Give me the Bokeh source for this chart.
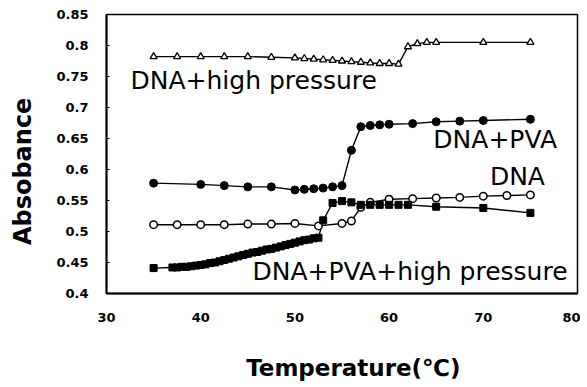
import math
from bokeh.plotting import figure
from bokeh.models import Range1d, FixedTicker, Label
from bokeh.core.properties import value
from bokeh.embed import file_html
from bokeh.resources import INLINE

# ---------------- data ----------------
x_ticks = [30, 40, 50, 60, 70, 80]
y_ticks = [0.4, 0.45, 0.5, 0.55, 0.6, 0.65, 0.7, 0.75, 0.8, 0.85]
y_tick_labels = ["0.4", "0.45", "0.5", "0.55", "0.6", "0.65", "0.7", "0.75", "0.8", "0.85"]

temp_hp = [35, 37.5, 40, 42.5, 45, 47.5, 50, 51, 52, 53, 54, 55, 56, 57, 58, 59, 60, 61,
           62, 63, 64, 65, 70, 75]
abs_hp = [0.782, 0.782, 0.782, 0.782, 0.782, 0.781, 0.780, 0.779, 0.778, 0.777, 0.776, 0.775,
          0.774, 0.773, 0.772, 0.771, 0.771, 0.770, 0.798, 0.803, 0.805, 0.805, 0.805, 0.805]

temp_pva = [35, 40, 42.5, 45, 47.5, 50, 51, 52, 53, 54, 55, 56, 57, 58, 59, 60, 62.5, 65,
            67.5, 70, 75]
abs_pva = [0.578, 0.576, 0.574, 0.572, 0.572, 0.567, 0.568, 0.569, 0.570, 0.572, 0.574, 0.631,
           0.669, 0.671, 0.672, 0.673, 0.674, 0.677, 0.678, 0.679, 0.681]

temp_dna = [35, 37.5, 40, 42.5, 45, 47.5, 50, 52.5, 55, 56, 57, 58, 60, 62.5, 65, 67.5, 70,
            72.5, 75]
abs_dna = [0.511, 0.511, 0.511, 0.511, 0.512, 0.512, 0.513, 0.509, 0.513, 0.517, 0.539, 0.547,
           0.552, 0.553, 0.554, 0.555, 0.557, 0.558, 0.559]

temp_pvahp = [35, 37, 37.5, 38, 38.5, 39, 39.5, 40, 40.5, 41, 41.5, 42, 42.5, 43, 43.5, 44,
              44.5, 45, 45.5, 46, 46.5, 47, 47.5, 48, 48.5, 49, 49.5, 50, 50.5, 51, 51.5, 52,
              52.5, 53, 54, 55, 56, 57, 58, 59, 60, 61, 62, 65, 70, 75]
abs_pvahp = [0.441, 0.442, 0.442, 0.443, 0.443, 0.444, 0.445, 0.446, 0.447, 0.449, 0.450,
             0.452, 0.454, 0.456, 0.458, 0.460, 0.462, 0.464, 0.466, 0.467, 0.469, 0.471,
             0.472, 0.474, 0.476, 0.478, 0.480, 0.482, 0.484, 0.486, 0.487, 0.489, 0.490,
             0.518, 0.546, 0.549, 0.547, 0.543, 0.543, 0.543, 0.543, 0.543, 0.543, 0.540,
             0.538, 0.530]

series_labels = ["DNA+high pressure", "DNA+PVA", "DNA", "DNA+PVA+high pressure"]
label_x = [32.55, 64.7, 70.7, 45.5]
label_y = [0.743, 0.649, 0.588, 0.435]

x_title = "Temperature(℃)"
y_title = "Absobance"

# ---------------- figure ----------------
FONT = "DejaVu Sans"
p = figure(width=580, height=387, output_backend="svg", toolbar_location=None,
           x_range=Range1d(30, 80), y_range=Range1d(0.4, 0.85),
           min_border_left=106, min_border_right=3, min_border_top=14, min_border_bottom=94)
p.grid.visible = False
p.outline_line_color = "black"
p.outline_line_width = 1.5
p.background_fill_color = "white"
p.border_fill_color = "white"

xa = p.xaxis[0]
xa.ticker = FixedTicker(ticks=x_ticks)
xa.major_tick_out = 0
xa.major_tick_in = 0
xa.minor_tick_out = 0
xa.minor_tick_in = 0
xa.axis_line_width = 2
xa.major_label_text_font = FONT
xa.major_label_text_font_style = "bold"
xa.major_label_text_font_size = "13px"
xa.major_label_text_color = "black"
xa.major_label_standoff = 19

ya = p.yaxis[0]
ya.ticker = FixedTicker(ticks=y_ticks)
ya.major_label_overrides = {t: l for t, l in zip(y_ticks, y_tick_labels)}
ya.major_tick_out = 0
ya.major_tick_in = 3
ya.minor_tick_out = 0
ya.minor_tick_in = 0
ya.axis_line_width = 2
ya.major_label_text_font = FONT
ya.major_label_text_font_style = "bold"
ya.major_label_text_font_size = "13px"
ya.major_label_text_color = "black"
ya.major_label_standoff = 18

# ---------------- series ----------------
lw = 1.4
p.line(temp_hp, abs_hp, line_color="black", line_width=lw)
p.line(temp_pva, abs_pva, line_color="black", line_width=lw)
p.line(temp_dna, abs_dna, line_color="black", line_width=lw)
p.line(temp_pvahp, abs_pvahp, line_color="black", line_width=lw)

p.scatter(temp_hp, abs_hp, marker="triangle", size=7, line_color="black", line_width=1.3,
          fill_color="white")
p.scatter(temp_pva, abs_pva, marker="circle", size=8, line_color="black", fill_color="black")
p.scatter(temp_dna, abs_dna, marker="circle", size=7.5, line_color="black", line_width=1.5,
          fill_color="white")
p.scatter(temp_pvahp, abs_pvahp, marker="square", size=7, line_color="black",
          fill_color="black")

p.text(x=label_x, y=label_y, text=series_labels, text_font=value(FONT),
       text_font_size="25px", text_color="black", text_align="left",
       text_baseline="alphabetic")

# ---------------- axis titles (labels placed in the side panels) ----------------
p.add_layout(Label(x=21.1, y=0.597, text=y_title, angle=math.pi / 2,
                   text_font=FONT, text_font_style="bold", text_font_size="24px",
                   text_align="center", text_baseline="middle", text_color="black"), "left")
p.add_layout(Label(x=56.2, y=0.28, text=x_title,
                   text_font=FONT, text_font_style="bold", text_font_size="23px",
                   text_align="center", text_baseline="middle", text_color="black"), "below")

open("out.html", "w").write(file_html(p, INLINE))
